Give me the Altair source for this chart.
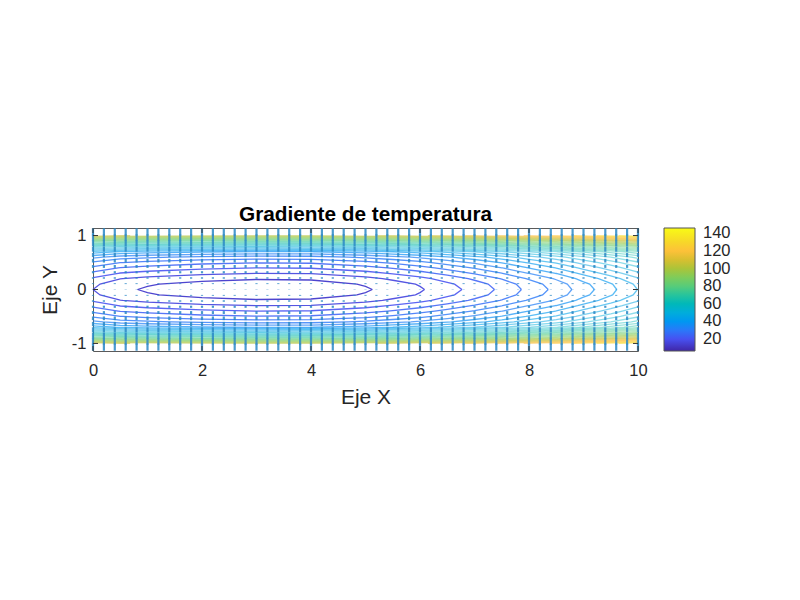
import altair as alt
import pandas as pd

FONT = "Liberation Sans"
title_text = "Gradiente de temperatura"

# Temperature grid: one row per x column, one value per |y| row
grid_x = [0, .5, 1, 2, 3, 4, 5, 5.5, 6, 6.5, 7, 7.5, 8, 8.5, 9, 9.5, 10]
grid_y = [0, .1, .2, .3, .4, .5, .6, .7, .8, .9, 1]
grid_T = [
    [16.7, 17.4, 19.5, 22.6, 26.0, 29.7, 34.7, 42.7, 57.7, 79.7, 108.2],
    [14.0, 14.7, 16.8, 19.9, 23.3, 27.0, 32.0, 40.0, 55.0, 77.0, 105.5],
    [12.9, 13.6, 15.7, 18.8, 22.2, 25.9, 30.9, 38.9, 53.9, 75.9, 104.4],
    [11.5, 12.2, 14.3, 17.4, 20.8, 24.5, 29.5, 37.5, 52.5, 74.5, 103.0],
    [10.8, 11.5, 13.6, 16.7, 20.1, 23.8, 28.8, 36.8, 51.8, 73.8, 102.3],
    [11.0, 11.7, 13.8, 16.9, 20.3, 24.0, 29.0, 37.0, 52.0, 74.0, 102.5],
    [12.9, 13.6, 15.7, 18.8, 22.2, 25.9, 30.9, 38.9, 53.9, 75.9, 104.4],
    [14.5, 15.2, 17.3, 20.4, 23.8, 27.5, 32.5, 40.5, 55.5, 77.5, 106.0],
    [16.3, 17.0, 19.1, 22.2, 25.6, 29.3, 34.3, 42.3, 57.3, 79.3, 107.8],
    [18.7, 19.4, 21.5, 24.6, 28.0, 31.7, 36.7, 44.7, 59.7, 81.7, 110.2],
    [21.3, 22.0, 24.1, 27.2, 30.6, 34.3, 39.3, 47.3, 62.3, 84.3, 112.8],
    [24.3, 25.0, 27.1, 30.2, 33.6, 37.3, 42.3, 50.3, 65.3, 87.3, 115.8],
    [27.9, 28.6, 30.7, 33.8, 37.2, 40.9, 45.9, 53.9, 68.9, 90.9, 119.4],
    [31.3, 32.0, 34.1, 37.2, 40.6, 44.3, 49.3, 57.3, 72.3, 94.3, 122.8],
    [35.5, 36.2, 38.3, 41.4, 44.8, 48.5, 53.5, 61.5, 76.5, 98.5, 127.0],
    [39.5, 40.2, 42.3, 45.4, 48.8, 52.5, 57.5, 65.5, 80.5, 102.5, 131.0],
    [44.0, 44.7, 46.8, 49.9, 53.3, 57.0, 62.0, 70.0, 85.0, 107.0, 135.5],
]
levels = [13.3, 16.7, 20.1, 23.5, 26.9, 30.3, 33.7, 37.1, 40.5, 43.9, 47.3, 50.7, 54.1, 57.5,
          60.9, 64.3, 67.7, 71.1, 74.5, 77.9, 81.3, 84.7, 88.1, 91.5, 94.9, 98.3, 101.7, 105.1,
          108.5, 111.9, 115.3, 118.7, 122.1, 125.5, 128.9, 132.3]

# Quiver grid
arrow_x = [0, .2, .4, .6, .8, 1, 1.2, 1.4, 1.6, 1.8, 2, 2.2, 2.4, 2.6, 2.8, 3, 3.2, 3.4, 3.6, 3.8,
           4, 4.2, 4.4, 4.6, 4.8, 5, 5.2, 5.4, 5.6, 5.8, 6, 6.2, 6.4, 6.6, 6.8, 7, 7.2, 7.4, 7.6, 7.8,
           8, 8.2, 8.4, 8.6, 8.8, 9, 9.2, 9.4, 9.6, 9.8, 10]
arrow_rows = [0, .1, .2, .3, .4, .5, .6, .7, .8, .9, 1]
arrow_len = [.006, .016, .027, .04, .054, .068, .08, .095, .108, .122, .135]

x_ticks = [0, 2, 4, 6, 8, 10]
y_ticks = [-1, 0, 1]
bar_ticks = [20, 40, 60, 80, 100, 120, 140]
parula = ["#3e26a8", "#4752f4", "#2d87f7", "#1caadf", "#1cbab0", "#48cb86",
          "#80cc59", "#bdbf2f", "#fdbd3c", "#f5dc26", "#f9fb15"]


def contour_vertices(level):
    """Crossings of one level with the grid's columns and rows, sorted along x."""
    pts = []
    nx, ny = len(grid_x), len(grid_y)
    for i in range(nx):
        col = grid_T[i]
        for j in range(ny - 1):
            if col[j] <= level <= col[j + 1]:
                f = (level - col[j]) / (col[j + 1] - col[j])
                pts.append((grid_x[i], grid_y[j] + f * (grid_y[j + 1] - grid_y[j])))
                break
    for j in range(ny):
        for i in range(nx - 1):
            a, b = grid_T[i][j], grid_T[i + 1][j]
            if a != b and min(a, b) < level < max(a, b):
                f = (level - a) / (b - a)
                pts.append((grid_x[i] + f * (grid_x[i + 1] - grid_x[i]), grid_y[j]))
    return sorted(set(pts))


rows = []
for n, lev in enumerate(levels):
    piece = 0
    last = None
    for k, (a, b) in enumerate(contour_vertices(lev)):
        if last is not None and last >= 1 and b >= 1:
            piece += 1
        last = b
        for sign in (1, -1):
            rows.append({"id": f"{n}_{piece}_{sign}", "k": k, "x": a, "y": sign * b, "T": lev})
df_c = pd.DataFrame(rows)

rows = []
for a in arrow_x:
    for r, l in zip(arrow_rows, arrow_len):
        rows.append({"x": a, "y": r, "y2": r + l})
        if r > 0:
            rows.append({"x": a, "y": -r, "y2": -r - l})
df_q = pd.DataFrame(rows)

xscale = alt.Scale(domain=[0, 10], nice=False, zero=False)
yscale = alt.Scale(domain=[-1.14, 1.14], nice=False, zero=False)

x_axis = alt.Axis(values=x_ticks, grid=False, ticks=False, domain=False, title="Eje X",
                  labelFont=FONT, labelFontSize=16.5, labelColor="#262626", labelPadding=11,
                  labelAngle=0, labelFlush=False, titleFont=FONT, titleFontSize=21,
                  titleFontWeight="normal", titleColor="#262626", titlePadding=8,
                  labelExpr="'' + datum.value")
y_axis = alt.Axis(values=y_ticks, grid=False, ticks=False, domain=False, title="Eje Y",
                  labelFont=FONT, labelFontSize=16.5, labelColor="#262626", labelPadding=7,
                  titleFont=FONT, titleFontSize=21, titleFontWeight="normal",
                  titleColor="#262626", titlePadding=11, labelExpr="'' + datum.value")

lines = alt.Chart(df_c).mark_line(strokeWidth=1.3, interpolate="linear").encode(
    x=alt.X("x:Q", scale=xscale, axis=x_axis),
    y=alt.Y("y:Q", scale=yscale, axis=y_axis),
    detail="id:N",
    order="k:Q",
    opacity=alt.Opacity("T:Q", scale=alt.Scale(domain=[13, 30, 55, 140], range=[.95, .8, .42, .5]),
                        legend=None),
    color=alt.Color("T:Q", scale=alt.Scale(domain=[6.5, 146], range=parula, nice=False, zero=False),
                    legend=alt.Legend(orient="none", legendX=571, legendY=0, direction="vertical",
                                      type="gradient", title=None, values=bar_ticks,
                                      gradientLength=123, gradientThickness=31, gradientOpacity=1,
                                      gradientStrokeColor="#555555", gradientStrokeWidth=1,
                                      labelFont=FONT, labelFontSize=16.5, labelColor="#262626",
                                      labelOffset=8, labelOverlap=False, padding=0)),
)

arrows = alt.Chart(df_q).mark_rule(strokeWidth=2.2, color="#2a88c6", opacity=0.85).encode(
    x=alt.X("x:Q", scale=xscale), y=alt.Y("y:Q", scale=yscale), y2="y2:Q")

df_xt = pd.DataFrame({"x": x_ticks})
df_yt = pd.DataFrame({"y": y_ticks})
tick_color = "#333333"
ticks = [
    alt.Chart(df_xt).mark_rule(color=tick_color, strokeWidth=1).encode(
        x=alt.X("x:Q", scale=xscale), y=alt.value(123), y2=alt.value(118)),
    alt.Chart(df_xt).mark_rule(color=tick_color, strokeWidth=1).encode(
        x=alt.X("x:Q", scale=xscale), y=alt.value(0), y2=alt.value(5)),
    alt.Chart(df_yt).mark_rule(color=tick_color, strokeWidth=1).encode(
        y=alt.Y("y:Q", scale=yscale), x=alt.value(0), x2=alt.value(5)),
    alt.Chart(df_yt).mark_rule(color=tick_color, strokeWidth=1).encode(
        y=alt.Y("y:Q", scale=yscale), x=alt.value(545), x2=alt.value(540)),
]

chart = alt.layer(lines, arrows, *ticks).properties(
    width=545, height=123,
    autosize=alt.AutoSizeParams(type="none"),
    padding={"left": 85, "top": 220, "right": 150, "bottom": 200},
    title=alt.TitleParams(title_text, font=FONT, fontSize=20.8, fontWeight="bold", color="#000000",
                          anchor="middle", offset=1),
).configure_view(stroke="#5a5a5a", strokeWidth=1).configure_axis(labelOverlap=False)

chart.save("out.html", embed_options={"renderer": "svg", "actions": False})
